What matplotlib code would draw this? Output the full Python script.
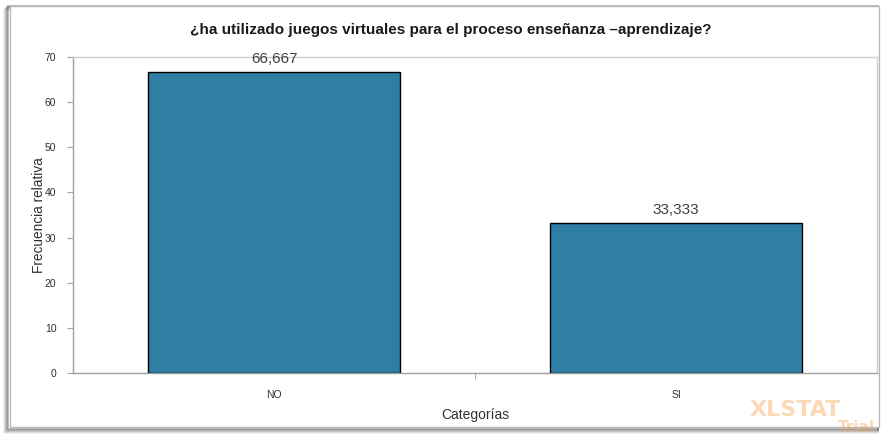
import matplotlib.pyplot as plt
from matplotlib.patches import Rectangle
import numpy as np

categories = ["NO", "SI"]
values = [66.667, 33.333]
value_labels = ["66,667", "33,333"]
y_ticks = [0, 10, 20, 30, 40, 50, 60, 70]

title = "¿ha utilizado juegos virtuales para el proceso enseñanza \u2013aprendizaje?"

W, H = 883, 434
fig = plt.figure(figsize=(W / 100, H / 100), dpi=100)
fig.patch.set_facecolor("white")

# Panel with soft shadow on the left and bottom
for i, a in enumerate(np.linspace(0.45, 0.08, 5)):
    fig.add_artist(Rectangle(((8 - i) / W, (5 - i) / H), (870 + i) / W, 423 / H,
                             transform=fig.transFigure, facecolor="none",
                             edgecolor=(0.3, 0.3, 0.3, a), linewidth=1.2, zorder=0))
fig.add_artist(Rectangle((10 / W, 7 / H), 869 / W, 421 / H, transform=fig.transFigure,
                         facecolor="white", edgecolor="#b8b8b8", linewidth=1.0, zorder=0))

ax = fig.add_axes([73 / W, (H - 373) / H, (877 - 73) / W, (373 - 57) / H])
x = np.arange(len(categories))
bars = ax.bar(x, values, width=0.627, color="#2f7ea3", edgecolor="black", linewidth=1.0, zorder=3)

for xi, v, lab in zip(x, values, value_labels):
    ax.annotate(lab, (xi, v), xytext=(0, 4), textcoords="offset points",
                ha="center", va="bottom", fontsize=11, color="#404040",
                family="Liberation Sans", zorder=4)

ax.set_xlim(-0.5, 1.5)
ax.set_ylim(0, 70)
ax.set_yticks(y_ticks)
ax.set_yticklabels([str(t) for t in y_ticks], fontsize=7.5, color="#303030",
                   family="Liberation Sans")
ax.set_xticks(x)
ax.set_xticklabels(categories, fontsize=7.5, color="#303030", family="Liberation Sans")
ax.set_xticks([0.5], minor=True)
ax.tick_params(axis="x", which="major", length=0, pad=12)
ax.tick_params(axis="x", which="minor", length=4, color="#a0a0a0", direction="out")
ax.tick_params(axis="y", length=4, color="#a0a0a0", direction="out", pad=8)

for side in ["left", "bottom"]:
    ax.spines[side].set_color("#a0a0a0")
    ax.spines[side].set_linewidth(1.0)
for side in ["top", "right"]:
    ax.spines[side].set_color("#d0d0d0")
    ax.spines[side].set_linewidth(1.0)

ax.set_ylabel("Frecuencia relativa", fontsize=9.8, color="#303030", labelpad=-1,
              family="Liberation Sans")
ax.set_xlabel("Categorías", fontsize=10, color="#303030", labelpad=6,
              family="Liberation Sans")

fig.text(451 / W, 1 - 30 / H, title, ha="center", va="center", fontsize=11,
         fontweight="bold", color="#1a1a1a", family="Liberation Sans")

# Trial watermark
fig.text(750 / W, 1 - 410 / H, "XLSTAT", fontsize=16, fontweight="bold", color="#f7a04a",
         alpha=0.4, ha="left", va="center", family="DejaVu Sans")
fig.text(838 / W, 1 - 428 / H, "Trial", fontsize=11, fontweight="bold", color="#f7a04a",
         alpha=0.4, ha="left", va="center", family="DejaVu Sans")

fig.savefig("out.png", dpi=100)
